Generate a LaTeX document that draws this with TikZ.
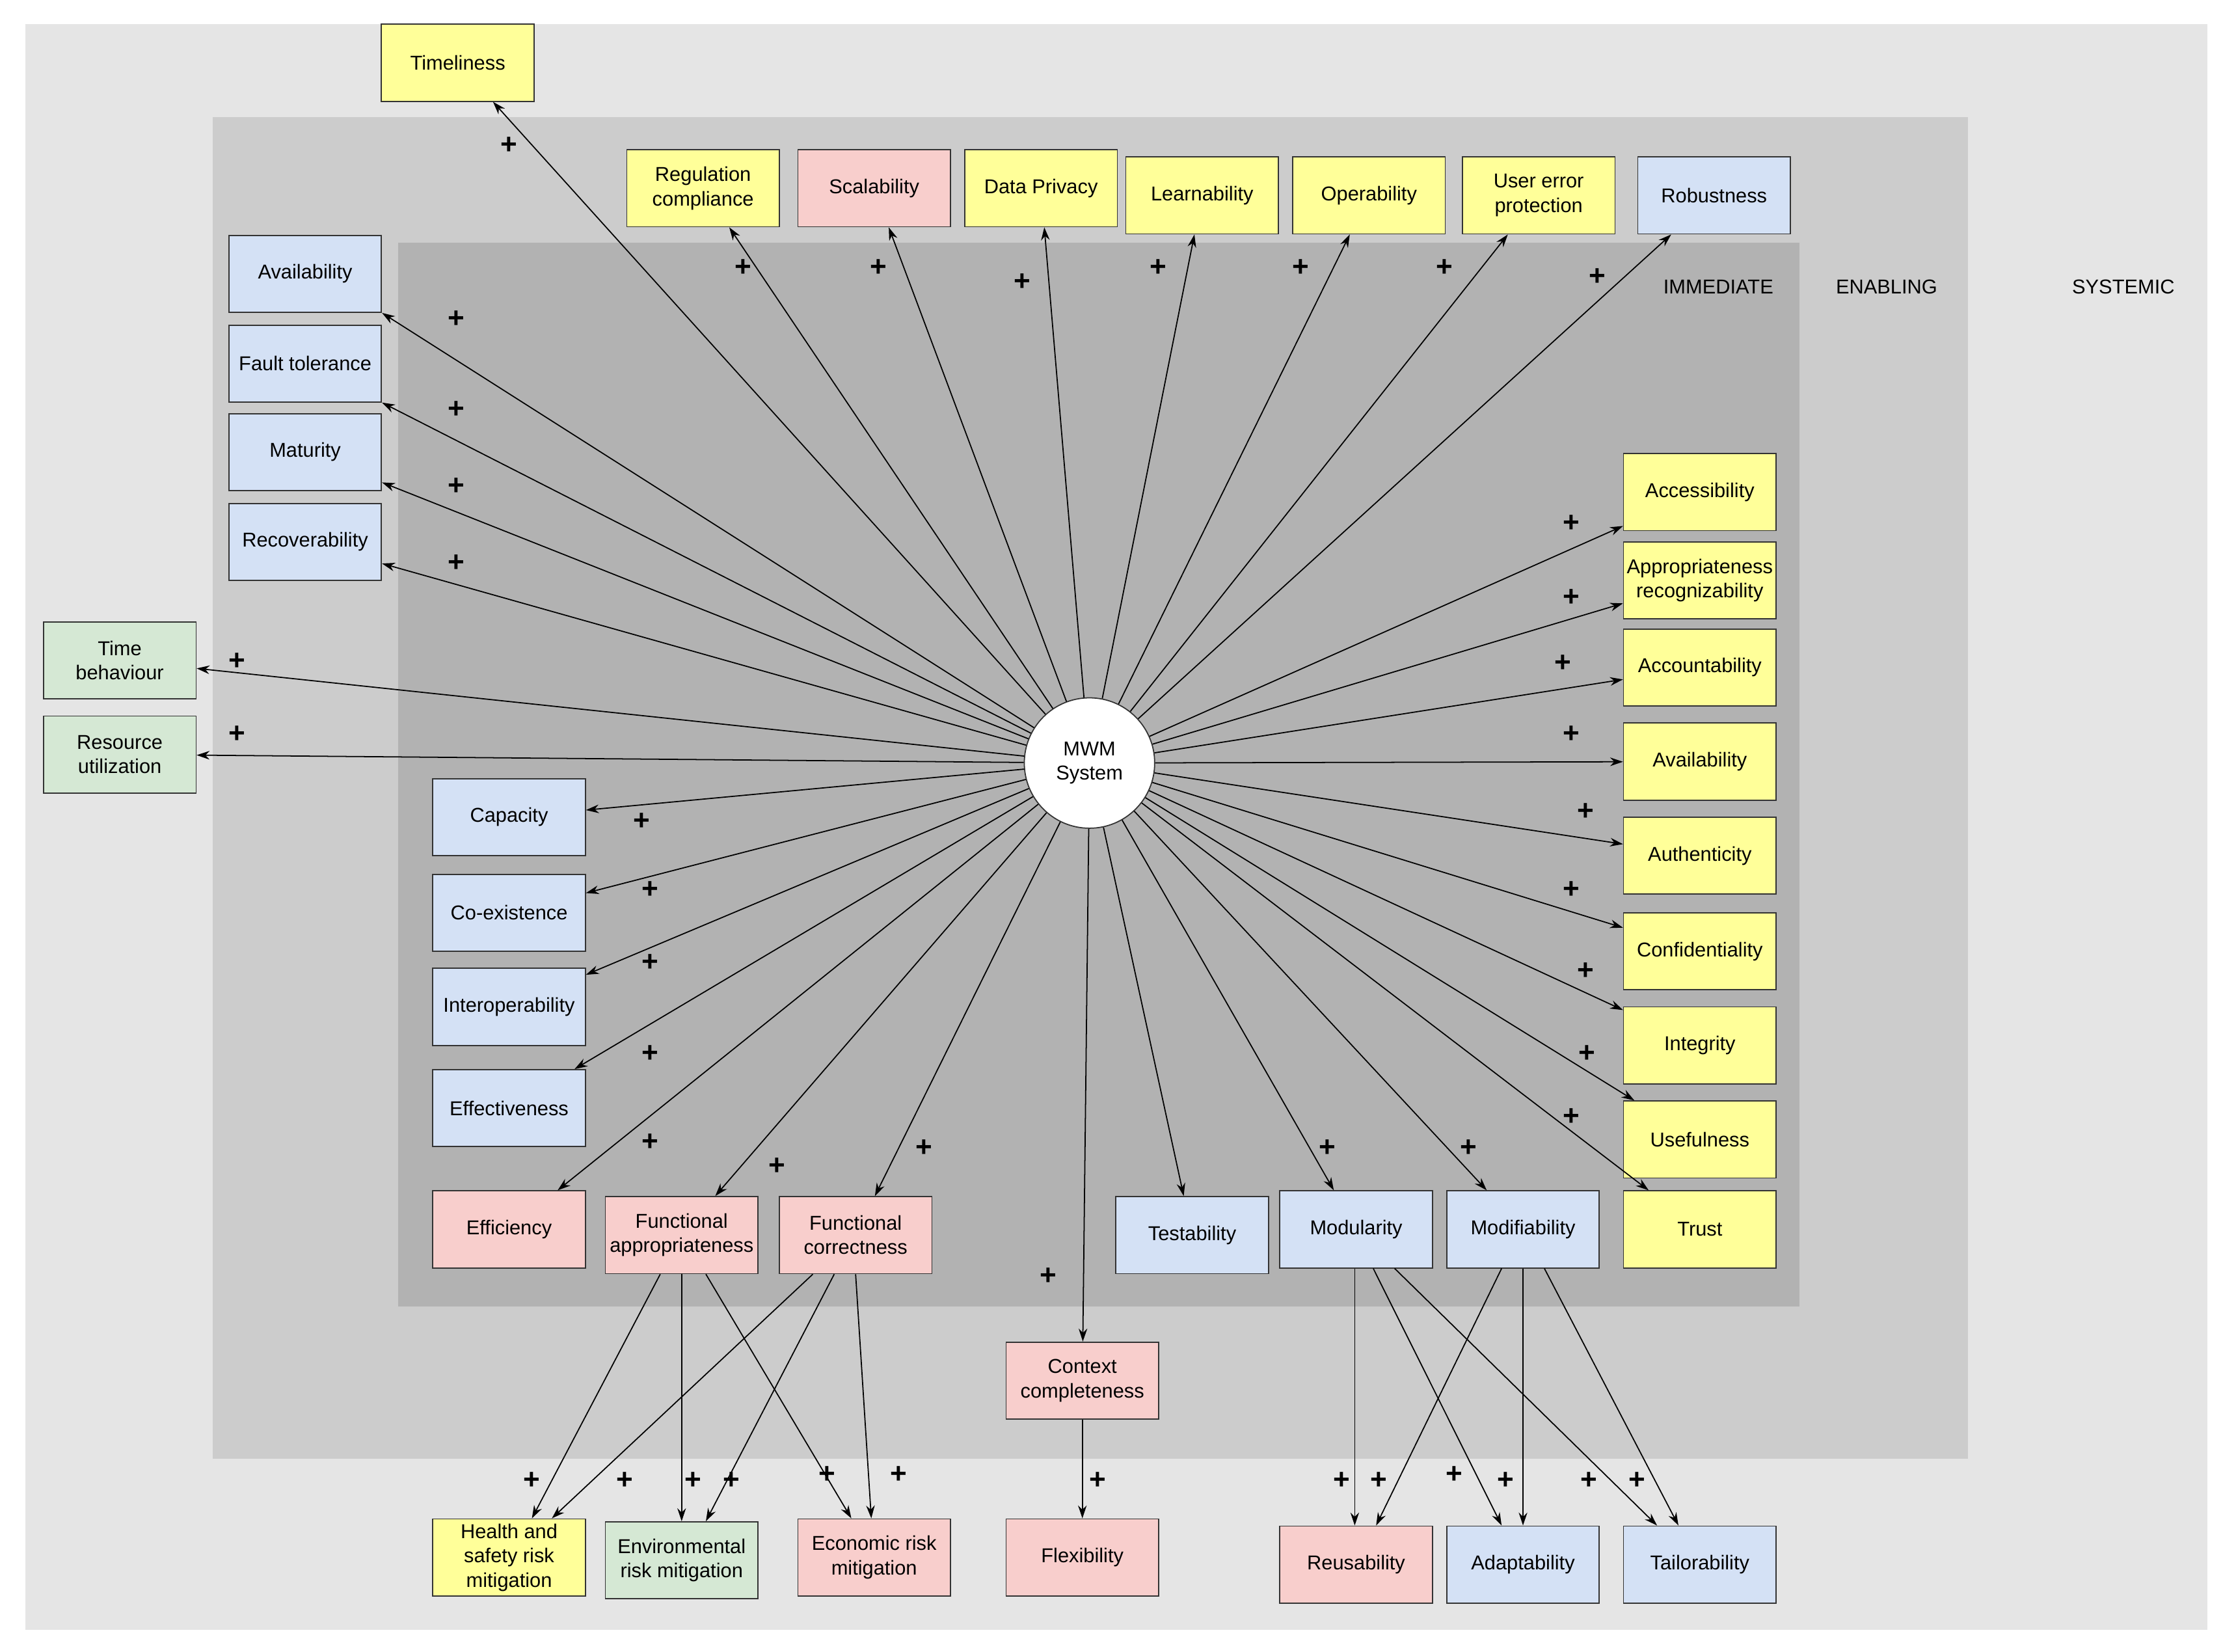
\documentclass[tikz,border=0pt]{standalone}
\usepackage{fontspec}
\setmainfont{Liberation Sans}
\usetikzlibrary{arrows.meta,calc}
\definecolor{cy}{HTML}{FFFF99}
\definecolor{cb}{HTML}{D4E1F5}
\definecolor{cp}{HTML}{F8CECC}
\definecolor{cg}{HTML}{D5E8D4}
\begin{document}
\begin{tikzpicture}[x=0.035cm,y=-0.035cm,
 box/.style={draw=black!80,line width=0.8pt,minimum width=3.745cm,minimum height=1.89cm,inner sep=1pt,align=center,font=\fontsize{14}{17}\selectfont},
 Y/.style={box,fill=cy},B/.style={box,fill=cb},P/.style={box,fill=cp},G/.style={box,fill=cg},
 ar/.style={-{Stealth[length=9pt,width=6pt]},line width=0.8pt},
 pl/.style={font=\fontsize{20}{20}\selectfont\bfseries}]
\useasboundingbox (0,0) rectangle (1568,1158);
\fill[white] (0,0) rectangle (1568,1158);
\fill[black!10] (18,17) rectangle (1548,1143);
\fill[black!20] (149,82) rectangle (1380,1023);
\fill[black!30] (279,170) rectangle (1262,916);
\node[font=\fontsize{14}{16}\selectfont] at (1205,201) {IMMEDIATE};
\node[font=\fontsize{14}{16}\selectfont] at (1323,201) {ENABLING};
\node[font=\fontsize{14}{16}\selectfont] at (1489,201) {SYSTEMIC};
\node[circle,draw=black!80,fill=white,line width=0.8pt,minimum size=3.2cm,align=center,font=\fontsize{14}{17}\selectfont] (M) at (764,535) {MWM\\System};
% top
\node[Y] (tim) at (321,44) {Timeliness};
\node[Y] (reg) at (493,132) {Regulation\\compliance};
\node[P] (sca) at (613,132) {Scalability};
\node[Y] (dat) at (730,132) {Data Privacy};
\node[Y] (lea) at (843,137) {Learnability};
\node[Y] (ope) at (960,137) {Operability};
\node[Y] (use) at (1079,137) {User error\\protection};
\node[B] (rob) at (1202,137) {Robustness};
% left
\node[B] (av1) at (214,192) {Availability};
\node[B] (fau) at (214,255) {Fault tolerance};
\node[B] (mat) at (214,317) {Maturity};
\node[B] (rec) at (214,380) {Recoverability};
\node[G] (tib) at (84,463) {Time\\behaviour};
\node[G] (res) at (84,529) {Resource\\utilization};
\node[B] (cap) at (357,573) {Capacity};
\node[B] (coe) at (357,640) {Co-existence};
\node[B] (int) at (357,706) {Interoperability};
\node[B] (eff) at (357,777) {Effectiveness};
% bottom row
\node[P] (efc) at (357,862) {Efficiency};
\node[P] (fa) at (478,866) {Functional\\appropriateness};
\node[P] (fc) at (600,866) {Functional\\correctness};
\node[B] (tes) at (836,866) {Testability};
\node[B] (mod) at (951,862) {Modularity};
\node[B] (mdf) at (1068,862) {Modifiability};
\node[Y] (tru) at (1192,862) {Trust};
% right
\node[Y] (acc) at (1192,345) {Accessibility};
\node[Y] (apr) at (1192,407) {Appropriateness\\recognizability};
\node[Y] (acn) at (1192,468) {Accountability};
\node[Y] (av2) at (1192,534) {Availability};
\node[Y] (aut) at (1192,600) {Authenticity};
\node[Y] (con) at (1192,667) {Confidentiality};
\node[Y] (ing) at (1192,733) {Integrity};
\node[Y] (usf) at (1192,799) {Usefulness};
% lower
\node[P] (ctx) at (759,968) {Context\\completeness};
\node[P] (fle) at (759,1092) {Flexibility};
\node[Y] (hea) at (357,1092) {Health and\\safety risk\\mitigation};
\node[G] (env) at (478,1094) {Environmental\\risk mitigation};
\node[P] (eco) at (613,1092) {Economic risk\\mitigation};
\node[P] (reu) at (951,1097) {Reusability};
\node[B] (ada) at (1068,1097) {Adaptability};
\node[B] (tai) at (1192,1097) {Tailorability};
% radial arrows
\foreach \n in {tim,reg,sca,dat,lea,ope,use,rob,fau,mat,rec,tib,res,cap,coe,int,eff,efc,fa,fc,tes,mod,mdf,acc,apr,acn,av2,aut,con,ing,ctx}
  \draw[ar] (M) -- (\n);
\draw[ar] (M) -- (av1.south east);
\draw[ar] (M) -- ($(usf.north west)+(8,0)$);
\draw[ar] (M) -- ($(tru.north west)+(18,0)$);
% lower arrows
\draw[ar] ($(fa.south)+(-15,0)$) -- ($(hea.north)+(16,0)$);
\draw[ar] (fa.south) -- (env.north);
\draw[ar] ($(fa.south)+(17,0)$) -- ($(eco.north)+(-16,0)$);
\draw[ar] ($(fc.south)+(-30,0)$) -- ($(hea.north)+(30,0)$);
\draw[ar] ($(fc.south)+(-15,0)$) -- ($(env.north)+(17,0)$);
\draw[ar] (fc.south) -- ($(eco.north)+(-2,0)$);
\draw[ar] (ctx) -- (fle);
\draw[ar] ($(mod.south)+(-1,0)$) -- ($(reu.north)+(-1,0)$);
\draw[ar] ($(mod.south)+(12,0)$) -- ($(ada.north)+(-15,0)$);
\draw[ar] ($(mod.south)+(27,0)$) -- ($(tai.north)+(-30,0)$);
\draw[ar] ($(mdf.south)+(-15,0)$) -- ($(reu.north)+(14,0)$);
\draw[ar] (mdf.south) -- (ada.north);
\draw[ar] ($(mdf.south)+(15,0)$) -- ($(tai.north)+(-15,0)$);
% plus signs
\foreach \p in {(357,102),(521,188),(616,188),(717,198),(812,188),(912,188),(1013,188),(1120,194),(320,224),(320,287),(320,341),(320,395),(166,464),(166,515),(450,576),(456,624),(456,675),(456,739),(456,801),(545,818),(648,805),(735,895),(931,805),(1030,805),(1102,367),(1102,419),(1096,465),(1102,515),(1112,569),(1102,624),(1112,681),(1113,739),(1102,783),(373,1038),(438,1038),(486,1038),(513,1038),(580,1034),(630,1034),(770,1038),(941,1038),(967,1038),(1020,1034),(1056,1038),(1114,1038),(1148,1038)}
  \node[pl] at \p {+};
\end{tikzpicture}
\end{document}
